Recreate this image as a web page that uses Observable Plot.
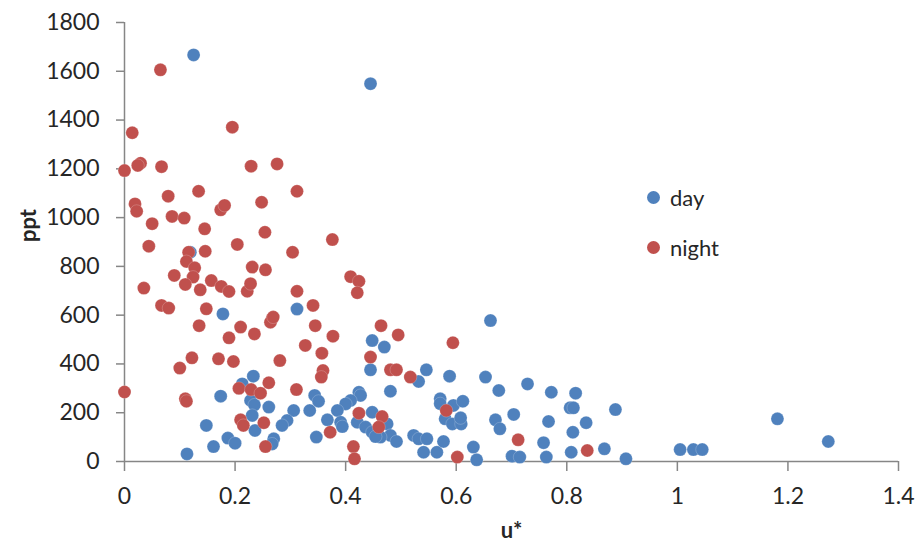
<!DOCTYPE html>
<html>
<head>
<meta charset="utf-8">
<script src="https://cdn.jsdelivr.net/npm/d3@7"></script>
<script src="https://cdn.jsdelivr.net/npm/@observablehq/plot@0.6"></script>
<style>
  html, body { margin: 0; padding: 0; background: #fff; }
  #wrap { position: relative; width: 920px; height: 551px; overflow: hidden; font-family: Lato, "Open Sans", sans-serif; }
  #legend { position: absolute; left: 647px; top: 172px; font-size: 22px; color: #262626; }
  .item { display: flex; align-items: center; height: 50px; }
  .sw { width: 13px; height: 13px; border-radius: 50%; margin-right: 10px; }
</style>
</head>
<body>
<div id="wrap"></div>
<script>
const seriesNames = ["day", "night"];
const seriesColors = ["#4F81BD", "#C0504D"];

const dayU = [0.125,0.445,0.312,0.662,0.178,0.119,0.448,0.47,0.445,0.546,0.532,0.588,0.653,
  0.233,0.213,0.174,0.228,0.235,0.261,0.231,0.306,0.294,0.285,0.148,0.236,0.187,0.2,0.161,0.27,0.267,0.113,
  0.481,0.424,0.427,0.344,0.351,0.409,0.4,0.335,0.367,0.385,0.391,0.394,0.448,0.421,0.436,0.448,0.475,0.481,0.492,0.463,0.454,0.347,
  0.571,0.571,0.595,0.612,0.58,0.593,0.609,0.608,0.523,0.532,0.547,0.541,0.565,0.577,0.631,0.637,
  0.677,0.729,0.772,0.816,0.806,0.812,0.888,0.671,0.679,0.704,0.767,0.835,0.811,0.758,0.701,0.715,0.763,0.808,0.868,0.907,
  1.005,1.029,1.045,1.181,1.273];
const dayPpt = [1667,1549,625,578,605,858,496,469,376,376,328,350,346,
  350,318,268,250,232,223,189,209,168,148,148,127,96,75,61,93,72,31,
  288,284,271,271,247,250,236,209,171,209,161,143,202,161,141,120,154,107,82,100,102,100,
  257,237,230,247,175,154,154,179,107,93,93,38,38,82,59,7,
  291,318,284,280,220,220,213,171,134,193,164,159,120,77,22,18,18,38,52,11,
  49,49,49,175,82];

const nightU = [0,0.135,0.21,0.189,0.235,0.267,0.264,0.122,0.1,0.17,0.197,0.281,0.11,0.112,0.207,0.229,0.246,0.261,0.311,0.21,0.215,0.252,0.255,
  0.345,0.377,0.327,0.357,0.359,0.356,0.464,0.495,0.445,0.481,0.492,0.517,0.594,0.424,0.466,0.46,0.372,0.414,0.416,0.582,0.602,0.712,0.837,
  0.065,0.014,0.195,0,0.029,0.024,0.067,0.229,0.276,
  0.312,0.079,0.134,0.019,0.022,0.174,0.181,0.248,0.05,0.086,0.108,0.145,0.254,0.044,0.116,0.112,0.146,0.204,0.304,0.127,0.124,0.09,0.11,0.137,0.157,0.175,0.189,0.222,0.228,0.231,0.255,0.035,0.312,0.067,0.08,0.148,0.269,
  0.376,0.409,0.424,0.421,0.341];
const nightPpt = [285,557,551,507,523,585,571,425,383,421,410,414,257,247,300,295,280,323,295,171,148,159,61,
  557,514,476,444,373,346,557,519,428,376,376,346,487,198,184,141,120,61,11,209,18,89,45,
  1606,1348,1371,1193,1223,1214,1209,1211,1220,
  1108,1088,1108,1056,1026,1032,1050,1063,975,1005,998,954,940,883,858,820,862,890,858,794,756,763,726,704,742,718,697,698,729,797,786,711,698,640,629,626,592,
  910,758,739,692,640];

const xTicks = [0, 0.2, 0.4, 0.6, 0.8, 1, 1.2, 1.4];
const xTickLabels = ["0", "0.2", "0.4", "0.6", "0.8", "1", "1.2", "1.4"];
const yTicks = [0, 200, 400, 600, 800, 1000, 1200, 1400, 1600, 1800];
const yTickLabels = ["0", "200", "400", "600", "800", "1000", "1200", "1400", "1600", "1800"];
const xTitle = "u*";
const yTitle = "ppt";

const day = dayU.map((u, i) => ({u, ppt: dayPpt[i]}));
const night = nightU.map((u, i) => ({u, ppt: nightPpt[i]}));

const axisColor = "#868686";
const textColor = "#262626";

const chart = Plot.plot({
  width: 920,
  height: 551,
  marginLeft: 124,
  marginRight: 22,
  marginTop: 22,
  marginBottom: 90,
  style: {fontFamily: "Lato, 'Open Sans', sans-serif", fontSize: "23px", color: textColor, background: "#fff"},
  x: {domain: [0, 1.4]},
  y: {domain: [0, 1800]},
  marks: [
    Plot.ruleX([0], {stroke: axisColor, strokeWidth: 1.5}),
    Plot.ruleY([0], {stroke: axisColor, strokeWidth: 1.5}),
    Plot.axisX({ticks: xTicks, tickSize: 10, tickPadding: 16, stroke: axisColor, strokeWidth: 1.5,
      tickFormat: d => xTickLabels[xTicks.indexOf(d)], fill: textColor, fontSize: 23, label: null}),
    Plot.axisY({ticks: yTicks, tickSize: 8, tickPadding: 17, stroke: axisColor, strokeWidth: 1.5,
      tickFormat: d => yTickLabels[yTicks.indexOf(d)], fill: textColor, fontSize: 23, label: null}),
    Plot.dot(day, {x: "u", y: "ppt", r: 6.5, fill: seriesColors[0], stroke: "#fff", strokeWidth: 0.4, strokeOpacity: 0.5}),
    Plot.dot(night, {x: "u", y: "ppt", r: 6.5, fill: seriesColors[1], stroke: "#fff", strokeWidth: 0.4, strokeOpacity: 0.5}),
    Plot.text([yTitle], {frameAnchor: "left", rotate: -90, dx: -96, text: d => d, fontWeight: "bold", fontSize: 22, fill: textColor}),
    Plot.text([xTitle], {frameAnchor: "bottom", dy: 76, text: d => d, fontWeight: "bold", fontSize: 22, fill: textColor})
  ]
});

const wrap = document.getElementById("wrap");
wrap.appendChild(chart);

const legend = document.createElement("div");
legend.id = "legend";
seriesNames.forEach((name, i) => {
  const item = document.createElement("div");
  item.className = "item";
  const sw = document.createElement("span");
  sw.className = "sw";
  sw.style.background = seriesColors[i];
  const label = document.createElement("span");
  label.textContent = name;
  item.appendChild(sw);
  item.appendChild(label);
  legend.appendChild(item);
});
wrap.appendChild(legend);
</script>
</body>
</html>
